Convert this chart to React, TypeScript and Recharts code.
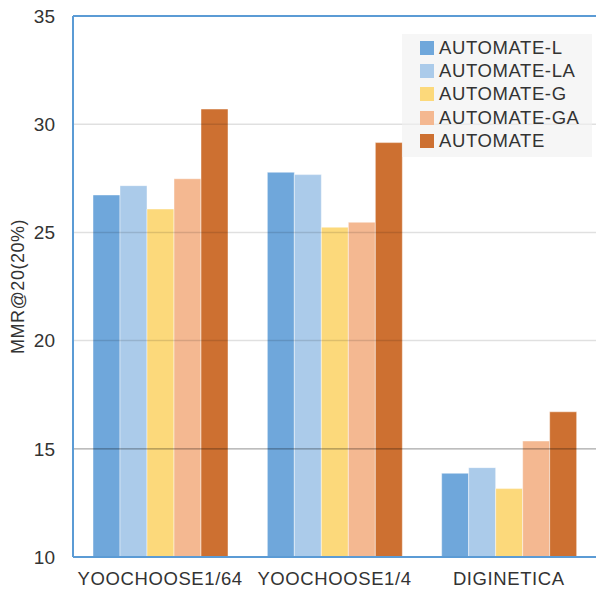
import { BarChart, Bar, XAxis, YAxis, ReferenceLine } from "recharts";

const datasets = ["YOOCHOOSE1/64", "YOOCHOOSE1/4", "DIGINETICA"];
const automateL = [26.73, 27.78, 13.87];
const automateLA = [27.16, 27.67, 14.13];
const automateG = [26.08, 25.24, 13.16];
const automateGA = [27.48, 25.47, 15.36];
const automate = [30.7, 29.15, 16.71];

const yTicks = [10, 15, 20, 25, 30, 35];

const series = [
  { key: "l", name: "AUTOMATE-L", values: automateL, color: "#6fa7db" },
  { key: "la", name: "AUTOMATE-LA", values: automateLA, color: "#abcbea" },
  { key: "g", name: "AUTOMATE-G", values: automateG, color: "#fcd97b" },
  { key: "ga", name: "AUTOMATE-GA", values: automateGA, color: "#f4b891" },
  { key: "a", name: "AUTOMATE", values: automate, color: "#cd7031" },
];

const data = datasets.map((name, i) => {
  const row: Record<string, string | number> = { name };
  series.forEach(s => { row[s.key] = s.values[i]; });
  return row;
});

const FONT = "'Liberation Sans', Arial, sans-serif";
const AXIS_BLUE = "#5b9bd5";

// legend sits over the plot, drawn as a plain overlay so it takes no chart space
function LegendBox() {
  return (
    <div style={{ position: "absolute", left: 402, top: 34, width: 190, background: "rgba(240,240,240,0.6)",
      padding: "2px 0 4px 18px", boxSizing: "border-box", fontFamily: FONT }}>
      {series.map(s => (
        <div key={s.key} style={{ display: "flex", alignItems: "center", height: 23.4 }}>
          <span style={{ width: 14, height: 14, background: s.color, marginRight: 5, display: "inline-block" }} />
          <span style={{ fontSize: 18.5, color: "#333", letterSpacing: 0.6 }}>{s.name}</span>
        </div>
      ))}
    </div>
  );
}

export default function App() {
  return (
    <div style={{ position: "absolute", left: 0, top: 0, width: 596, height: 591, background: "#fff" }}>
      <BarChart width={596} height={591} data={data} margin={{ top: 16, right: 0, left: 0, bottom: 4 }}
        barCategoryGap={20} barGap={0}>
        <XAxis dataKey="name" height={30} tickLine={false} axisLine={{ stroke: AXIS_BLUE, strokeWidth: 2 }}
          tick={{ fontSize: 18.5, fill: "#333", fontFamily: FONT, letterSpacing: 0.6 }} tickMargin={9} interval={0} />
        <YAxis domain={[10, 35]} ticks={yTicks} allowDataOverflow width={73} tickLine={false}
          axisLine={{ stroke: AXIS_BLUE, strokeWidth: 2 }}
          tick={{ fontSize: 19, fill: "#333", fontFamily: FONT }} tickMargin={12}
          label={{ value: "MMR@20(20%)", angle: -90, position: "insideLeft", offset: 18,
            style: { fontSize: 18, fill: "#333", fontFamily: FONT, textAnchor: "middle", letterSpacing: 0.5 } }} />
        {series.map(s => (
          <Bar key={s.key} dataKey={s.key} name={s.name} fill={s.color} stroke="#ffffff" strokeOpacity={0.45}
            strokeWidth={1} isAnimationActive={false} />
        ))}
        {[20, 25, 30].map(v => (
          <ReferenceLine key={v} y={v} stroke="#000" strokeOpacity={0.12} strokeWidth={1.5} />
        ))}
        <ReferenceLine y={15} stroke="#000" strokeOpacity={0.35} strokeWidth={1.2} />
        <ReferenceLine y={35} stroke={AXIS_BLUE} strokeWidth={2} />
      </BarChart>
      <LegendBox />
    </div>
  );
}
